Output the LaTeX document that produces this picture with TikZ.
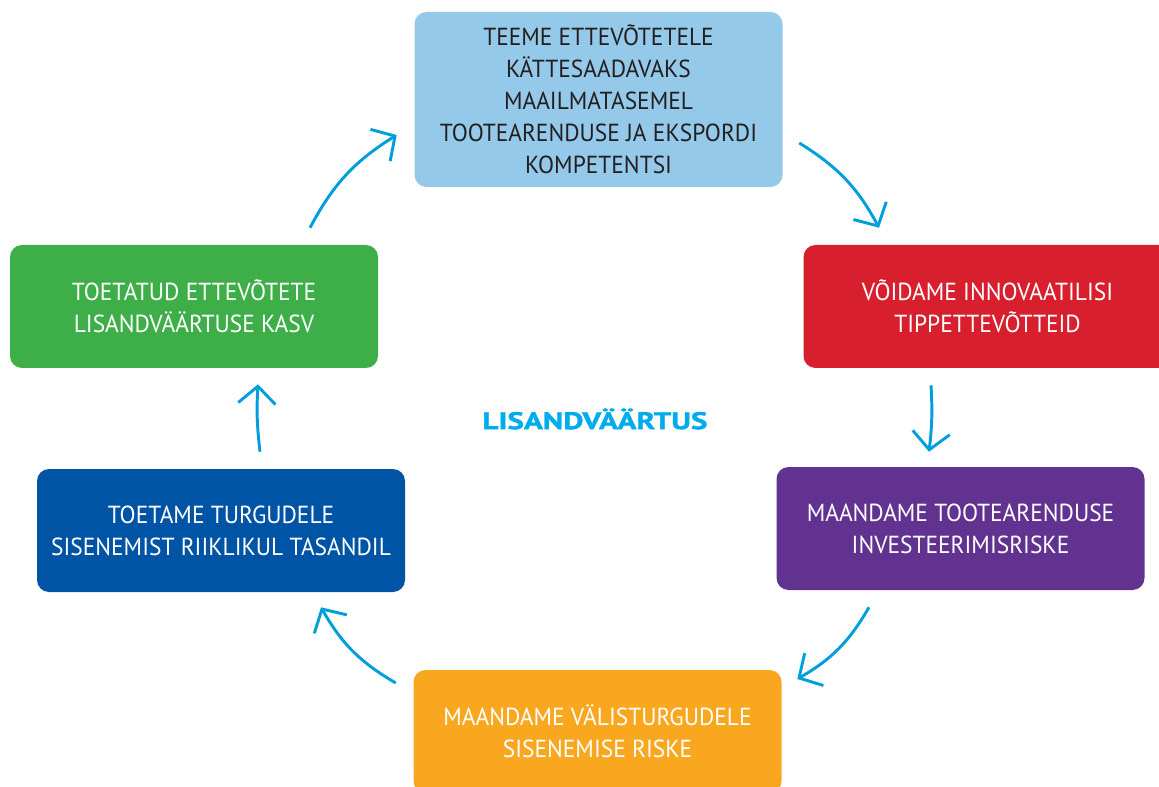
\documentclass[tikz,border=0pt]{standalone}
\usepackage{fontspec}
\setmainfont[FakeStretch=0.95]{PT Sans}
\newfontfamily\pealkiri[FakeStretch=1.3,FakeBold=1.5]{PT Sans}
\usetikzlibrary{arrows.meta}
\usetikzlibrary{calc}
\definecolor{kompetentsFill}{RGB}{148,201,234}
\definecolor{tippFill}{RGB}{215,31,46}
\definecolor{riskFill}{RGB}{98,50,144}
\definecolor{turgFill}{RGB}{249,167,30}
\definecolor{riikFill}{RGB}{0,84,166}
\definecolor{kasvFill}{RGB}{62,174,73}
\definecolor{tsykkelBlue}{RGB}{0,158,219}
\definecolor{pealkiriBlue}{RGB}{0,172,236}
\definecolor{tumeText}{RGB}{35,31,32}

\begin{document}
\begin{tikzpicture}[x=0.75pt,y=0.75pt,yscale=-1,xscale=1,
  tegevus/.style={rounded corners=9pt, minimum width=276pt, minimum height=92.25pt,
    align=center, inner sep=0pt, text=white, font=\fontsize{18.5}{24}\selectfont},
  tsykkel/.style={draw=tsykkelBlue, line width=2.2pt,
    -{Straight Barb[length=13pt,width=28pt]}}]
\useasboundingbox (0,0) rectangle (1159,787);

%Boxes
\node [tegevus, fill=kompetentsFill, text=tumeText, minimum height=131.25pt] (kompetents) at (598.5,99.5)
  {TEEME ETTEVÕTETELE\\KÄTTESAADAVAKS\\MAAILMATASEMEL\\TOOTEARENDUSE JA EKSPORDI\\KOMPETENTSI};
\node [tegevus, fill=tippFill] (tipp) at (987.5,306.5) {VÕIDAME INNOVAATILISI\\TIPPETTEVÕTTEID};
\node [tegevus, fill=riskFill] (investeering) at (960.5,528.5) {MAANDAME TOOTEARENDUSE\\INVESTEERIMISRISKE};
\node [tegevus, fill=turgFill] (valisturg) at (597.5,731.5) {MAANDAME VÄLISTURGUDELE\\SISENEMISE RISKE};
\node [tegevus, fill=riikFill] (riik) at (221,530.5) {TOETAME TURGUDELE\\SISENEMIST RIIKLIKUL TASANDIL};
\node [tegevus, fill=kasvFill] (kasv) at (194,306.5) {TOETATUD ETTEVÕTETE\\LISANDVÄÄRTUSE KASV};

% Centre title
\node [text=pealkiriBlue, font=\pealkiri\fontsize{18}{20}\selectfont\bfseries] (lisand) at (595,419) {LISANDVÄÄRTUS};

%Cycle arrows
\draw [tsykkel] ($(kasv.north)+(116,-17)$) to[bend right=15] ($(kompetents.west)+(-17.5,35.5)$);
\draw [tsykkel] ($(kompetents.east)+(16.5,43.5)$) to[bend right=15] ($(tipp.north)+(-108.5,-17)$);
\draw [tsykkel] ($(tipp.south)+(-56.5,17)$) to[bend right=5] ($(investeering.north)+(-31.5,-15)$);
\draw [tsykkel] ($(investeering.south)+(-91.5,17)$) to[bend right=15] ($(valisturg.east)+(15.5,-52.5)$);
\draw [tsykkel] ($(valisturg.west)+(-17.5,-48.5)$) to[bend right=15] ($(riik.south)+(100,15)$);
\draw [tsykkel] ($(riik.north)+(39,-17)$) to[bend right=5] ($(kasv.south)+(64,16)$);

\end{tikzpicture}
\end{document}
